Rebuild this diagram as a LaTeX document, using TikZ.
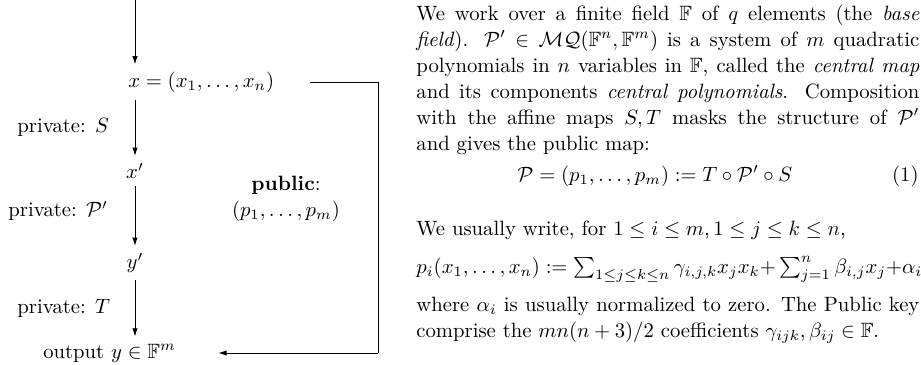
\documentclass[tikz,border=0pt]{standalone}
\usepackage{amsmath,amssymb}
\usetikzlibrary{arrows.meta}
\begin{document}
\begin{tikzpicture}[x=0.48309pt,y=-0.48309pt,
  every node/.style={font=\fontsize{10pt}{12.6pt}\selectfont},
  flow/.style={-{Latex[length=4pt,width=2.6pt]}, line width=0.45pt},
  link/.style={line width=0.45pt},
  lbl/.style={inner sep=0pt, anchor=west},
  para/.style={inner sep=0pt, text width=243pt, align=justify, anchor=base west},
  txt/.style={inner sep=0pt, anchor=base west}]
\useasboundingbox (0,0) rectangle (921,365);

% ---------------- diagram ----------------
\coordinate (in) at (135,0);
\node[anchor=west] (x) at (121,82) {$x=(x_1,\dots,x_n)$};
\node (xp) at (135,171) {$x'$};
\node (yp) at (135,263) {$y'$};
\node[anchor=west] (out) at (36,353) {output $y\in\mathbb{F}^m$};

\draw[flow] (in) -- (in |- x.north);
\draw[flow] (in |- x.south) -- (xp);
\draw[flow] (xp) -- (yp);
\draw[flow] (yp) -- (in |- out.north);

\node[lbl] (ls) at (17,127) {private: $S$};
\node[lbl] (lp) at (8,211) {private: $\mathcal{P}'$};
\node[lbl] (lt) at (17,308) {private: $T$};

\node[align=center, inner sep=0pt] (pub) at (286,199) {\textbf{public}:\\$(p_1,\dots,p_m)$};

\coordinate (c1) at (378,82);
\coordinate (c2) at (378,353);
\draw[link, shorten <=14pt] (x.east) -- (c1) -- (c2);
\draw[flow, shorten >=17pt] (c2) -- (out.east);

% ---------------- text ----------------
\node[para] (p1) at (416,20) {We work over a finite field $\mathbb{F}$ of $q$ elements (the \emph{base}\linebreak{} \emph{field}). $\mathcal{P}'\in\mathcal{MQ}(\mathbb{F}^n,\mathbb{F}^m)$ is a system of $m$ quadratic\linebreak{} polynomials in $n$ variables in $\mathbb{F}$, called the \emph{central map}\linebreak{} and its components \emph{central polynomials}. Composition\linebreak{} with the affine maps $S,T$ masks the structure of $\mathcal{P}'$\linebreak{} and gives the public map:};

\node[txt] (eq) at (517,181) {$\mathcal{P}=(p_1,\dots,p_m):=T\circ\mathcal{P}'\circ S$};
\node[inner sep=0pt, anchor=base east] (eqn) at (919,181) {(1)};

\node[txt] (p2) at (416,235) {We usually write, for $1\le i\le m, 1\le j\le k\le n$,};

\node[txt] (p3) at (416,273) {$p_i(x_1,\dots,x_n):=\sum_{1\le j\le k\le n}\gamma_{i,j,k}x_jx_k{+}\sum_{j=1}^n\beta_{i,j}x_j{+}\alpha_i$};

\node[para] (p4) at (416,311) {where $\alpha_i$ is usually normalized to zero. The Public key\linebreak{} comprise the $mn(n+3)/2$ coefficients $\gamma_{ijk},\beta_{ij}\in\mathbb{F}$.};
\end{tikzpicture}
\end{document}
